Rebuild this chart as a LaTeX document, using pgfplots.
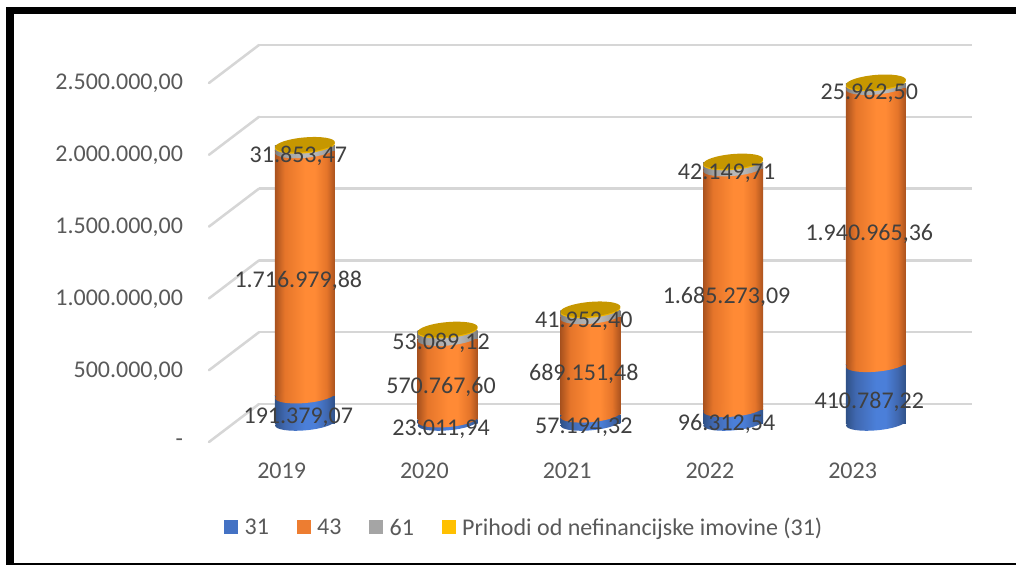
\documentclass[border=0pt]{standalone}
\usepackage{pgfplots}
\usepackage{pgfplotstable}
\usepackage{fontspec}
\setmainfont{Carlito}
\pgfplotsset{compat=1.18}
\definecolor{tickc}{HTML}{595959}
\definecolor{labc}{HTML}{404040}
\definecolor{gridc}{HTML}{D6D6D6}
\definecolor{bd}{HTML}{2F5187}\definecolor{bl}{HTML}{4B7FD9}\definecolor{bm}{HTML}{4068B0}
\definecolor{od}{HTML}{A9521E}\definecolor{ol}{HTML}{FF8A35}\definecolor{om}{HTML}{E5752A}
\definecolor{gd}{HTML}{7A7A7A}\definecolor{gl}{HTML}{B8B8B8}\definecolor{gm}{HTML}{A0A0A0}
\definecolor{gold1}{HTML}{F0B400}\definecolor{gold2}{HTML}{C69700}
\pgfdeclarehorizontalshading{cylblue}{100bp}{color(0bp)=(bd);color(25bp)=(bd);color(33bp)=(bm);color(50bp)=(bl);color(58bp)=(bl);color(68bp)=(bm);color(75bp)=(bd);color(100bp)=(bd)}
\pgfdeclarehorizontalshading{cylorange}{100bp}{color(0bp)=(od);color(25bp)=(od);color(33bp)=(om);color(50bp)=(ol);color(58bp)=(ol);color(68bp)=(om);color(75bp)=(od);color(100bp)=(od)}
\pgfdeclarehorizontalshading{cylgray}{100bp}{color(0bp)=(gd);color(25bp)=(gd);color(33bp)=(gm);color(50bp)=(gl);color(58bp)=(gl);color(68bp)=(gm);color(75bp)=(gd);color(100bp)=(gd)}
\newcommand\ellpath[1]{\pgfpathellipse{\pgfqpoint{0pt}{#1}}{\pgfqpoint{22.41pt}{1.96pt}}{\pgfqpoint{-0.48pt}{5.48pt}}}
\pgfdeclareplotmark{capblue}{\ellpath{0pt}\pgfshadepath{cylblue}{0}\pgfusepath{discard}}
\pgfdeclareplotmark{caporange}{\ellpath{0pt}\pgfshadepath{cylorange}{0}\pgfusepath{discard}}
\pgfdeclareplotmark{capgray}{\ellpath{0pt}\pgfshadepath{cylgray}{0}\pgfusepath{discard}}
\pgfdeclareplotmark{capgold}{\pgfsetfillcolor{gold1}\ellpath{0pt}\pgfusepathqfill\pgfsetfillcolor{gold2}\ellpath{0.9pt}\pgfusepathqfill}
\pgfplotstableread{
x z v31 v43 v61
0 0 191379.07 1716979.88 31853.47
}\yA
\pgfplotstableread{
x z v31 v43 v61
1 0 23011.94 570767.60 53089.12
}\yB
\pgfplotstableread{
x z v31 v43 v61
2 0 57194.32 689151.48 41952.40
}\yC
\pgfplotstableread{
x z v31 v43 v61
3 0 96312.54 1685273.09 42149.71
}\yD
\pgfplotstableread{
x z v31 v43 v61
4 0 410787.22 1940965.36 25962.50
}\yE
\pgfplotstableread{
x v31 v43 v61 l31 l43 l61
0 191379.07 1716979.88 31853.47 191.379,07 1.716.979,88 31.853,47
1 23011.94 570767.60 53089.12 23.011,94 570.767,60 53.089,12
2 57194.32 689151.48 41952.40 57.194,32 689.151,48 41.952,40
3 96312.54 1685273.09 42149.71 96.312,54 1.685.273,09 42.149,71
4 410787.22 1940965.36 25962.50 410.787,22 1.940.965,36 25.962,50
}\vals
\pgfplotsset{
  frontaxis/.style={
    at={(175.2pt,106.5pt)}, anchor=south west, scale only axis,
    width=535.3pt, height=267.75pt,
    xmin=-0.5, xmax=4.5, ymin=0, ymax=2500000, clip=false,
    axis line style={draw=none}, tick style={draw=none},
    xtick=\empty, ytick=\empty,
    stack plots=y, reverse stacked plots=false, bar width=45pt, bar shift=0pt,
  },
  seglab/.style={
    ybar, draw=none, fill=none,
    point meta=explicit symbolic,
    visualization depends on={\thisrow{#1}*0.00005355 \as \offs},
    nodes near coords={\pgfplotspointmeta},
    every node near coord/.append style={font=\fontsize{18}{20}\selectfont, text=labc, anchor=center, xshift=-5pt, yshift=-\offs pt-6pt},
  },
}
\newcommand\cyl[1]{%
\begin{axis}[frontaxis]
\addplot[only marks, mark=capblue] table[x=x,y=z] {#1};
\addplot[ybar, shade, shading=cylblue, draw=none] table[x=x,y=v31] {#1};
\addplot[only marks, mark=caporange] table[x=x,y=z] {#1};
\addplot[ybar, shade, shading=cylorange, draw=none] table[x=x,y=v43] {#1};
\addplot[only marks, mark=capgray] table[x=x,y=z] {#1};
\addplot[ybar, shade, shading=cylgray, draw=none] table[x=x,y=v61] {#1};
\addplot[only marks, mark=capgold] table[x=x,y=z] {#1};
\end{axis}}
\begin{document}
\begin{tikzpicture}
\path[use as bounding box] (0,0) rectangle (762pt,423.75pt);
% chart frame
\fill[black] (4.5pt,0pt) rectangle (10.5pt,418.5pt);
\fill[black] (4.5pt,413.5pt) rectangle (762pt,418.5pt);
\fill[black] (4.5pt,0pt) rectangle (762pt,1.5pt);
% back wall
\begin{axis}[
  at={(194.25pt,120.75pt)}, anchor=south west, scale only axis,
  width=534.75pt, height=269.25pt,
  xmin=259, xmax=972, ymin=0, ymax=2500000, clip=false,
  axis line style={draw=none}, tick style={draw=none},
  xtick=\empty, scaled y ticks=false,
  ytick={0,500000,1000000,1500000,2000000,2500000},
  yticklabels={-\hspace{12pt},{500.000,00},{1.000.000,00},{1.500.000,00},{2.000.000,00},{2.500.000,00}},
  yticklabel style={font=\fontsize{18}{20}\selectfont, text=tickc, anchor=east, xshift=-53.5pt, yshift=-29pt},
  ymajorgrids, grid style={draw=gridc, line width=1.9pt},
]
\addplot[gridc,line width=1.9pt,line cap=round] coordinates {(209,-264600)(259,0)};
\addplot[gridc,line width=1.9pt,line cap=round] coordinates {(209,235400)(259,500000)};
\addplot[gridc,line width=1.9pt,line cap=round] coordinates {(209,735400)(259,1000000)};
\addplot[gridc,line width=1.9pt,line cap=round] coordinates {(209,1235400)(259,1500000)};
\addplot[gridc,line width=1.9pt,line cap=round] coordinates {(209,1735400)(259,2000000)};
\addplot[gridc,line width=1.9pt,line cap=round] coordinates {(209,2235400)(259,2500000)};
\end{axis}
% year ticks and legend
\begin{axis}[frontaxis,
  xtick={0,1,2,3,4}, xticklabels={2019,2020,2021,2022,2023},
  xticklabel style={font=\fontsize{18}{20}\selectfont, text=tickc, anchor=center, xshift=-17.5pt, yshift=-36pt},
  legend columns=4,
  legend cell align=left,
  legend style={at={(-0.0134,-0.294)}, anchor=west, draw=none, fill=none, inner sep=0pt, font=\fontsize{18}{20}\selectfont, text=tickc,
     /tikz/every even column/.append style={column sep=18.8pt},
     /tikz/every odd column/.append style={column sep=2.8pt}},
]
\addlegendimage{legend image code/.code={\fill[draw=none,fill={rgb,255:red,68;green,114;blue,196}] (0pt,-4.7pt) rectangle (10.5pt,5.8pt);}}
\addlegendentry{31}
\addlegendimage{legend image code/.code={\fill[draw=none,fill={rgb,255:red,237;green,125;blue,49}] (0pt,-4.7pt) rectangle (10.5pt,5.8pt);}}
\addlegendentry{43}
\addlegendimage{legend image code/.code={\fill[draw=none,fill={rgb,255:red,165;green,165;blue,165}] (0pt,-4.7pt) rectangle (10.5pt,5.8pt);}}
\addlegendentry{61}
\addlegendimage{legend image code/.code={\fill[draw=none,fill={rgb,255:red,255;green,192;blue,0}] (0pt,-4.7pt) rectangle (10.5pt,5.8pt);}}
\addlegendentry{Prihodi od nefinancijske imovine (31)}
\end{axis}
% cylinders
\cyl{\yA}
\cyl{\yB}
\cyl{\yC}
\cyl{\yD}
\cyl{\yE}
% data labels on top
\begin{axis}[frontaxis]
\addplot[seglab=v31] table[x=x,y=v31,meta=l31] {\vals};
\addplot[seglab=v43] table[x=x,y=v43,meta=l43] {\vals};
\addplot[seglab=v61] table[x=x,y=v61,meta=l61] {\vals};
\end{axis}
\end{tikzpicture}
\end{document}
